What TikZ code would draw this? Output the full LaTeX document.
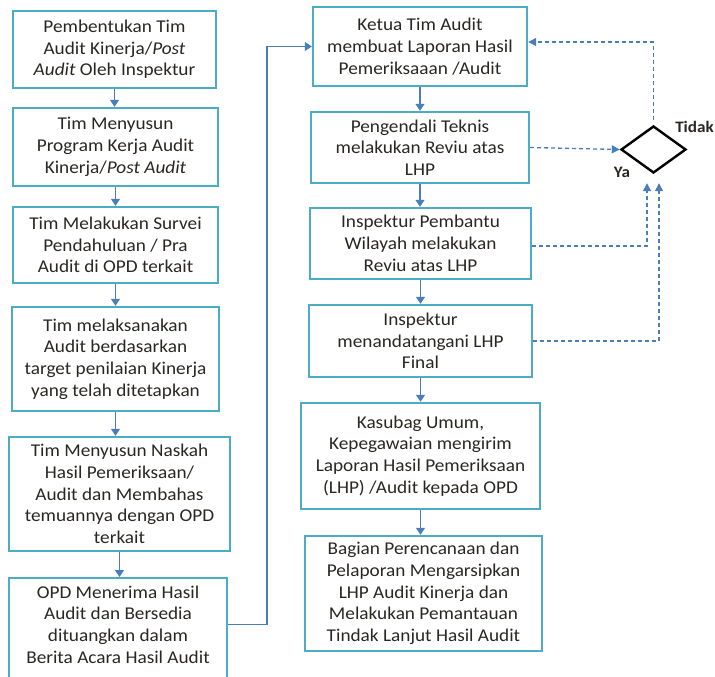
\documentclass[tikz,border=0pt]{standalone}
\usepackage{fontspec}
\setmainfont{Carlito}[FakeStretch=1.07]
\usetikzlibrary{arrows.meta,shapes.geometric,calc}
\definecolor{boxc}{HTML}{4BACC6}
\definecolor{arrc}{HTML}{4A7EBB}
\definecolor{txtc}{RGB}{42,38,34}
\tikzset{
  box/.style={draw=boxc, line width=2.4pt, inner sep=0pt, align=center, text=txtc,
    font=\fontsize{18}{21.7}\selectfont},
  txt/.style={inner sep=0pt, align=center, text=txtc, font=\fontsize{18}{21.7}\selectfont},
  flow/.style={draw=arrc, line width=1.5pt, -{Triangle[length=7pt,width=9pt]}},
  back/.style={draw=arrc, line width=1.3pt, dash pattern=on 4pt off 3pt, -{Triangle[length=8pt,width=8pt]}},
  lbl/.style={inner sep=0pt, text=txtc, font=\fontsize{16}{18}\selectfont\bfseries}
}
\begin{document}
\begin{tikzpicture}[x=1pt,y=-1pt]
\useasboundingbox (0,0) rectangle (715,677);
% left column
\node[box, minimum width=203, minimum height=77] (l1) at (114.5,49.5) {Pembentukan Tim\\Audit Kinerja/\textit{Post}\\\textit{Audit} Oleh Inspektur};
\node[box, minimum width=205, minimum height=78] (l2) at (115.5,147) {Tim Menyusun\\Program Kerja Audit\\Kinerja/\textit{Post Audit}};
\node[box, minimum width=205, minimum height=76] (l3) at (115.5,245) {Tim Melakukan Survei\\Pendahuluan / Pra\\Audit di OPD terkait};
\node[box, minimum width=207, minimum height=104] (l4) at (115.5,359) {Tim melaksanakan\\Audit berdasarkan\\target penilaian Kinerja\\yang telah ditetapkan};
\node[box, minimum width=221, minimum height=114] (l5) at (119.5,494) {Tim Menyusun Naskah\\Hasil Pemeriksaan/\\Audit dan Membahas\\temuannya dengan OPD\\terkait};
\node[box, minimum width=218, minimum height=125, anchor=north] (l6) at (118,577) {};
\node[txt] (l6t) at (118,624.5) {OPD Menerima Hasil\\Audit dan Bersedia\\dituangkan dalam\\Berita Acara Hasil Audit};
% right column
\node[box, minimum width=214, minimum height=79] (r1) at (420,46.5) {Ketua Tim Audit\\membuat Laporan Hasil\\Pemeriksaaan /Audit};
\node[box, minimum width=218, minimum height=71] (r2) at (420,147.5) {Pengendali Teknis\\melakukan Reviu atas\\LHP};
\node[box, minimum width=221, minimum height=71] (r3) at (420.5,243.5) {Inspektur Pembantu\\Wilayah melakukan\\Reviu atas LHP};
\node[box, minimum width=223, minimum height=72] (r4) at (420.5,341) {Inspektur\\menandatangani LHP\\Final};
\node[box, minimum width=239, minimum height=106] (r5) at (420.5,456) {Kasubag Umum,\\Kepegawaian mengirim\\Laporan Hasil Pemeriksaan\\(LHP) /Audit kepada OPD};
\node[box, minimum width=237, minimum height=115] (r6) at (423.5,593.5) {Bagian Perencanaan dan\\Pelaporan Mengarsipkan\\LHP Audit Kinerja dan\\Melakukan Pemantauan\\Tindak Lanjut Hasil Audit};
% decision
\node[diamond, draw=black, line width=2.4pt, inner sep=0pt, minimum width=65, minimum height=47] (d) at (653.5,149.5) {};
\node[lbl] (ya) at (622,172) {Ya};
\node[lbl, anchor=east] (tidak) at (714,127) {Tidak};
% left flow
\draw[flow] (l1.south) -- (l1.south |- l2.north);
\draw[flow] (l2.south) -- (l2.south |- l3.north);
\draw[flow] (l3.south) -- (l3.south |- l4.north);
\draw[flow] (l4.south) -- (l4.south |- l5.north);
\draw[flow] (l5.south) -- (l5.south |- l6.north);
\coordinate (jx) at (267,0);
\coordinate (ls) at (l6.east |- l6t);
\draw[flow] (ls) -| (jx |- r1.west) -- (r1.west);
% right flow
\draw[flow] (r1.south) -- (r1.south |- r2.north);
\draw[flow] (r2.south) -- (r2.south |- r3.north);
\draw[flow] (r3.south) -- (r3.south |- r4.north);
\draw[flow] (r4.south) -- (r4.south |- r5.north);
\draw[flow] (r5.south) -- (r5.south |- r6.north);
% feedback dashed
\coordinate (r1in) at ([yshift=4.5pt]r1.east);
\draw[back, shorten <=5pt] (d.north) |- (r1in);
\draw[back] (r2.east) -- (d.west);
\coordinate (t3) at ([xshift=-6.5pt, yshift=-9pt]d.south);
\coordinate (t4) at ([xshift=5.5pt, yshift=-9pt]d.south);
\draw[back] ([yshift=-2.5pt]r3.east) -| (t3);
\draw[back] (r4.east) -| (t4);
\end{tikzpicture}
\end{document}
